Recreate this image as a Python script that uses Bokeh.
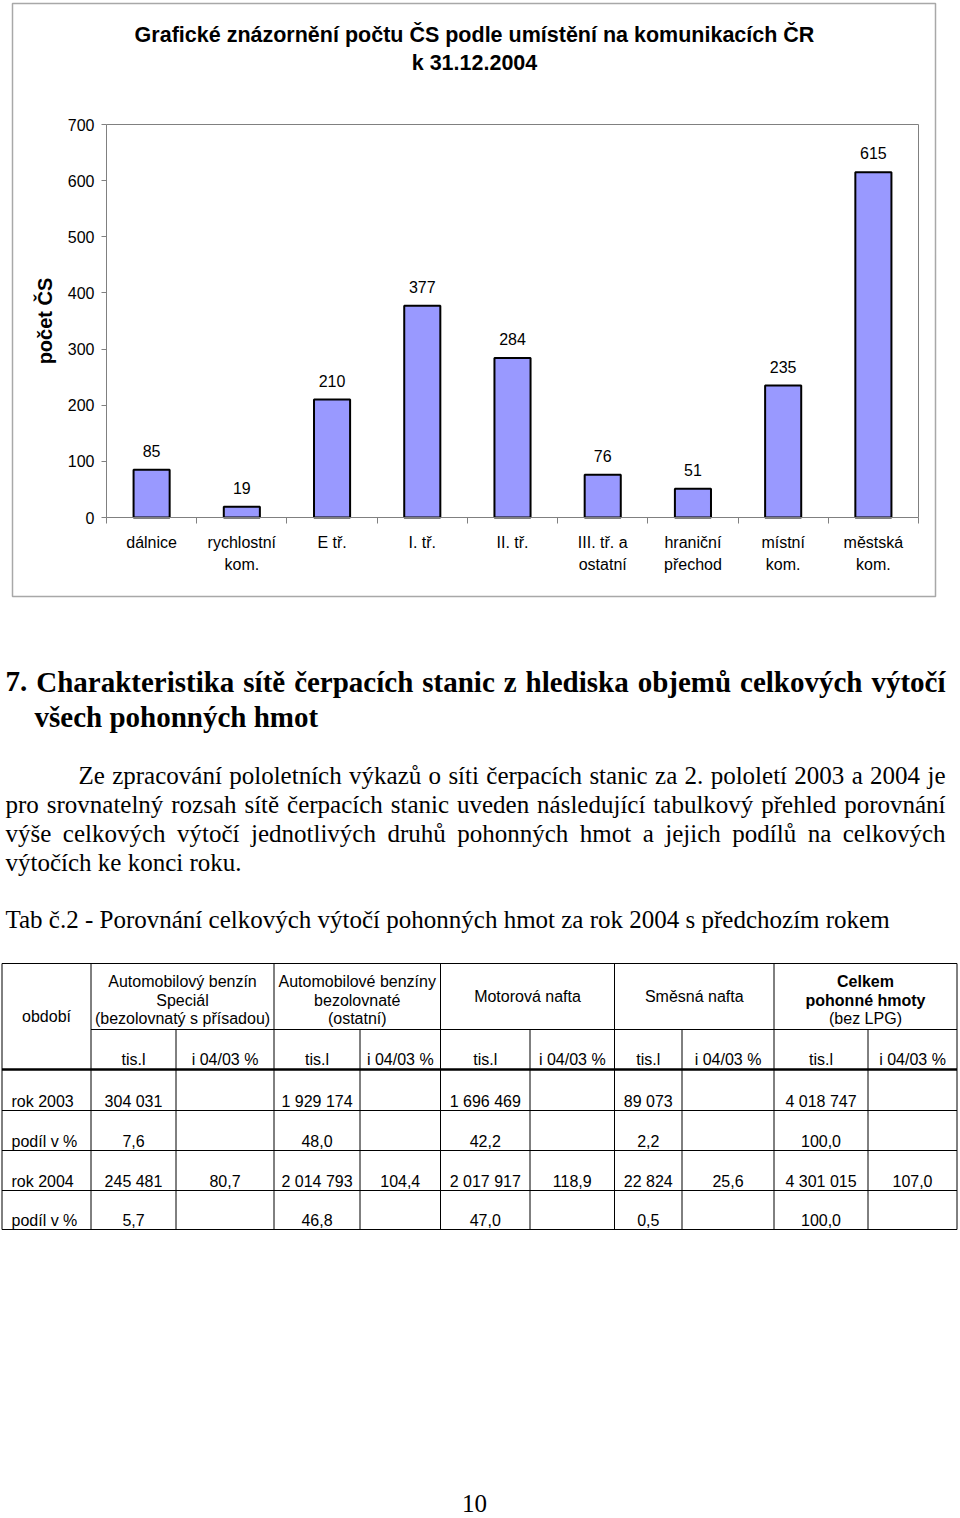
import unicodedata
from bokeh.plotting import figure
from bokeh.models import Range1d, FixedTicker, LinearAxis, ColumnDataSource
from bokeh.embed import file_html
from bokeh.resources import INLINE
from bokeh.core.properties import value

# ---------------- chart data ----------------
chart_title = ["Grafické znázornění počtu ČS podle umístění na komunikacích ČR", "k 31.12.2004"]
y_label = "počet ČS"
categories = ["dálnice", "rychlostní\nkom.", "E tř.", "I. tř.", "II. tř.",
              "III. tř. a\nostatní", "hraniční\npřechod", "místní\nkom.", "městská\nkom."]
counts = [85, 19, 210, 377, 284, 76, 51, 235, 615]
y_ticks = [0, 100, 200, 300, 400, 500, 600, 700]

# ---------------- page text ----------------
heading = ["7. Charakteristika sítě čerpacích stanic z hlediska objemů celkových výtočí",
           "všech pohonných hmot"]
paragraph = ["Ze zpracování pololetních výkazů o síti čerpacích stanic za 2. pololetí 2003 a 2004 je",
             "pro srovnatelný rozsah sítě čerpacích stanic uveden následující tabulkový přehled porovnání",
             "výše celkových výtočí jednotlivých druhů pohonných hmot a jejich podílů na celkových",
             "výtočích ke konci roku."]
table_caption = "Tab č.2 - Porovnání celkových výtočí pohonných hmot za rok 2004 s předchozím rokem"
page_number = "10"

# ---------------- table data ----------------
period_head = "období"
group_heads = [["Automobilový benzín", "Speciál", "(bezolovnatý s přísadou)"],
               ["Automobilové benzíny", "bezolovnaté", "(ostatní)"],
               ["Motorová nafta"],
               ["Směsná nafta"],
               ["Celkem", "pohonné hmoty", "(bez LPG)"]]
group_bold = [[False, False, False], [False, False, False], [False], [False], [True, True, False]]
unit_heads = ["tis.l", "i 04/03 %"]
row_labels = ["rok 2003", "podíl v %", "rok 2004", "podíl v %"]
benzin_special = ["304 031", "7,6", "245 481", "5,7"]
benzin_special_idx = ["", "", "80,7", ""]
benzin_ostatni = ["1 929 174", "48,0", "2 014 793", "46,8"]
benzin_ostatni_idx = ["", "", "104,4", ""]
motorova_nafta = ["1 696 469", "42,2", "2 017 917", "47,0"]
motorova_nafta_idx = ["", "", "118,9", ""]
smesna_nafta = ["89 073", "2,2", "22 824", "0,5"]
smesna_nafta_idx = ["", "", "25,6", ""]
celkem = ["4 018 747", "100,0", "4 301 015", "100,0"]
celkem_idx = ["", "", "107,0", ""]
table_cols = [benzin_special, benzin_special_idx, benzin_ostatni, benzin_ostatni_idx,
              motorova_nafta, motorova_nafta_idx, smesna_nafta, smesna_nafta_idx,
              celkem, celkem_idx]

# ---------------- layout constants (pixels) ----------------
W, H = 960, 1518
PL, PR, PT, PB = 106, 918, 124, 517          # chart plot area on the page
SANS = "Liberation Sans"
SERIF = "Liberation Serif"
GRAY = "#808080"

n = len(categories)
ymin, ymax = y_ticks[0], y_ticks[-1]
xscale = (PR - PL) / n
yscale = (PB - PT) / (ymax - ymin)
x_range = Range1d(-PL / xscale, n + (W - PR) / xscale)
y_range = Range1d(ymin - (H - PB) / yscale, ymax + PT / yscale)

p = figure(width=W, height=H, output_backend="svg", toolbar_location=None, tools="",
           x_range=x_range, y_range=y_range,
           x_axis_location=None, y_axis_location=None,
           min_border=0, min_border_left=0, min_border_right=0, min_border_top=0, min_border_bottom=0)
p.extra_x_ranges = {"px": Range1d(0, W)}
p.extra_y_ranges = {"py": Range1d(H, 0)}
p.grid.visible = False
p.outline_line_color = None
p.background_fill_color = "white"
p.border_fill_color = "white"

PX = dict(x_range_name="px", y_range_name="py")

# ================= chart =================
centers = [i + 0.5 for i in range(n)]

ya = LinearAxis(fixed_location=0, bounds=(ymin, ymax), ticker=FixedTicker(ticks=y_ticks))
ya.major_label_text_font = SANS
ya.major_label_text_font_size = "16px"
ya.major_label_text_color = "black"
ya.major_tick_out = 5
ya.major_tick_in = 0
ya.minor_tick_out = 0
ya.minor_tick_in = 0
ya.axis_line_color = GRAY
ya.major_tick_line_color = GRAY
ya.major_label_standoff = 7
ya.axis_label = y_label
ya.axis_label_text_font = SANS
ya.axis_label_text_font_style = "bold"
ya.axis_label_text_font_size = "20px"
ya.axis_label_text_color = "black"
ya.axis_label_standoff = 9
p.add_layout(ya, "left")

xa = LinearAxis(fixed_location=ymin, bounds=(0, n),
                ticker=FixedTicker(ticks=centers, minor_ticks=list(range(n + 1))))
xa.major_label_overrides = {c: lab for c, lab in zip(centers, categories)}
xa.major_label_text_font = SANS
xa.major_label_text_font_size = "16px"
xa.major_label_text_color = "black"
xa.major_label_text_line_height = 1.35
xa.major_tick_out = 0
xa.major_tick_in = 0
xa.minor_tick_out = 6
xa.minor_tick_in = 0
xa.minor_tick_line_color = GRAY
xa.axis_line_color = GRAY
xa.major_label_standoff = 10
p.add_layout(xa, "below")

# plot-area border (top and right sides)
p.line(x=[0, n, n], y=[ymax, ymax, ymin], line_color=GRAY, line_width=1)

src = ColumnDataSource(dict(x=centers, top=counts, label=[str(v) for v in counts]))
p.vbar(x="x", top="top", bottom=ymin, width=0.4, source=src,
       fill_color="#9999FF", line_color="black", line_width=2)
p.text(x="x", y="top", text="label", source=src, text_align="center", text_baseline="bottom",
       y_offset=-13, text_font=value(SANS), text_font_size="16px", text_color="black")

# chart title and chart-area frame
p.text(x=[474, 474], y=[34, 62], text=chart_title, text_font=value(SANS), text_font_style="bold",
       text_font_size="21.5px", text_align="center", text_baseline="middle", text_color="black", **PX)
p.quad(left=[12], right=[935], top=[3], bottom=[596], fill_color=None,
       line_color="#a8a8a8", line_width=1.5, **PX)

# ================= page text =================
TIMES = {' ': 250, '.': 250, ',': 250, '-': 333, 'a': 444, 'b': 500, 'c': 444, 'd': 500, 'e': 444,
         'f': 333, 'g': 500, 'h': 500, 'i': 278, 'j': 278, 'k': 500, 'l': 278, 'm': 778, 'n': 500,
         'o': 500, 'p': 500, 'q': 500, 'r': 333, 's': 389, 't': 278, 'u': 500, 'v': 500, 'w': 722,
         'x': 500, 'y': 500, 'z': 444, 'Z': 611, 'T': 611}
TIMES_B = {' ': 250, '.': 250, ',': 250, '-': 333, 'a': 500, 'b': 556, 'c': 444, 'd': 556, 'e': 444,
           'f': 333, 'g': 500, 'h': 556, 'i': 278, 'j': 333, 'k': 556, 'l': 278, 'm': 833, 'n': 556,
           'o': 500, 'p': 556, 'q': 556, 'r': 444, 's': 389, 't': 333, 'u': 556, 'v': 500, 'w': 722,
           'x': 500, 'y': 500, 'z': 444, 'C': 722}


def text_width(s, size, table):
    tot = 0
    for ch in s:
        base = unicodedata.normalize("NFD", ch)[0]
        tot += table.get(base, 500)
    return tot * size / 1000.0


def justify(line, x0, x1, size, table):
    words = line.split(" ")
    widths = [text_width(w, size, table) for w in words]
    gap = (x1 - x0 - sum(widths)) / (len(words) - 1)
    xs, x = [], x0
    for w in widths:
        xs.append(x)
        x += w + gap
    return words, xs


# heading
HSIZE = 29
hw, hxs = justify(heading[0], 5, 945, HSIZE, TIMES_B)
p.text(x=hxs + [34], y=[681] * len(hw) + [716], text=hw + [heading[1]], text_font=value(SERIF),
       text_font_style="bold", text_font_size=f"{HSIZE}px", text_baseline="middle",
       text_align="left", text_color="black", **PX)

# paragraph
PSIZE = 25
para_y = [775, 804, 833, 862]
para_x0 = [78, 5, 5, 5]
wx, wy, wt = [], [], []
for k, line in enumerate(paragraph):
    if k < 3:
        words, xs = justify(line, para_x0[k], 945, PSIZE, TIMES)
        wt += words
        wx += xs
        wy += [para_y[k]] * len(words)
    else:
        wt.append(line)
        wx.append(para_x0[k])
        wy.append(para_y[k])
p.text(x=wx, y=wy, text=wt, text_font=value(SERIF), text_font_size=f"{PSIZE}px",
       text_baseline="middle", text_align="left", text_color="black", **PX)

p.text(x=[5], y=[919], text=[table_caption], text_font=value(SERIF), text_font_size=f"{PSIZE}px",
       text_baseline="middle", text_align="left", text_color="black", **PX)
p.text(x=[474], y=[1503], text=[page_number], text_font=value(SERIF), text_font_size=f"{PSIZE}px",
       text_baseline="middle", text_align="center", text_color="black", **PX)

# ================= table =================
col_edges = [1.5, 90.5, 175.5, 273.5, 359.5, 440, 529.5, 614, 681.5, 773.5, 867.5, 956.5]
row_edges = [963, 1029, 1069, 1110, 1150, 1190, 1229]
sx0, sy0, sx1, sy1, sw = [], [], [], [], []
for j, yv in enumerate(row_edges):
    xs0 = col_edges[1] if j == 1 else col_edges[0]
    sx0.append(xs0); sx1.append(col_edges[-1]); sy0.append(yv); sy1.append(yv)
    sw.append(2.5 if j == 2 else 1)
for i, xv in enumerate(col_edges):
    sub = i >= 2 and i % 2 == 0 and i < len(col_edges) - 1
    ys0 = row_edges[1] if sub else row_edges[0]
    sx0.append(xv); sx1.append(xv); sy0.append(ys0); sy1.append(row_edges[-1]); sw.append(1)
p.segment(x0=sx0, y0=sy0, x1=sx1, y1=sy1, line_color="black", line_width=sw, **PX)

TS = "16px"
p.text(x=[(col_edges[0] + col_edges[1]) / 2], y=[1016], text=[period_head], text_font=value(SANS),
       text_font_size=TS, text_align="center", text_baseline="middle", text_color="black", **PX)
hx, hy, ht, hbx, hby, hbt = [], [], [], [], [], []
for g, lines in enumerate(group_heads):
    cx = (col_edges[1 + 2 * g] + col_edges[3 + 2 * g]) / 2
    mid = (row_edges[0] + row_edges[1]) / 2 + (3.5 if len(lines) > 1 else 0)
    for k, line in enumerate(lines):
        yy = mid + (k - (len(lines) - 1) / 2) * 18.7
        if group_bold[g][k]:
            hbx.append(cx); hby.append(yy); hbt.append(line)
        else:
            hx.append(cx); hy.append(yy); ht.append(line)
p.text(x=hx, y=hy, text=ht, text_font=value(SANS), text_font_size=TS,
       text_align="center", text_baseline="middle", text_color="black", **PX)
p.text(x=hbx, y=hby, text=hbt, text_font=value(SANS), text_font_size=TS, text_font_style="bold",
       text_align="center", text_baseline="middle", text_color="black", **PX)

ux, uy, ut = [], [], []
for c in range(len(table_cols)):
    ux.append((col_edges[1 + c] + col_edges[2 + c]) / 2)
    uy.append(row_edges[2] - 10)
    ut.append(unit_heads[c % 2])
p.text(x=ux, y=uy, text=ut, text_font=value(SANS), text_font_size=TS,
       text_align="center", text_baseline="middle", text_color="black", **PX)

dx, dy, dt = [], [], []
for r, lab in enumerate(row_labels):
    yy = row_edges[3 + r] - 9.5
    for c, col in enumerate(table_cols):
        if col[r]:
            dx.append((col_edges[1 + c] + col_edges[2 + c]) / 2)
            dy.append(yy)
            dt.append(col[r])
p.text(x=dx, y=dy, text=dt, text_font=value(SANS), text_font_size=TS,
       text_align="center", text_baseline="middle", text_color="black", **PX)
p.text(x=[col_edges[0] + 9.5] * len(row_labels), y=[row_edges[3 + r] - 9.5 for r in range(len(row_labels))],
       text=row_labels, text_font=value(SANS), text_font_size=TS,
       text_align="left", text_baseline="middle", text_color="black", **PX)

open("out.html", "w").write(file_html(p, INLINE))
